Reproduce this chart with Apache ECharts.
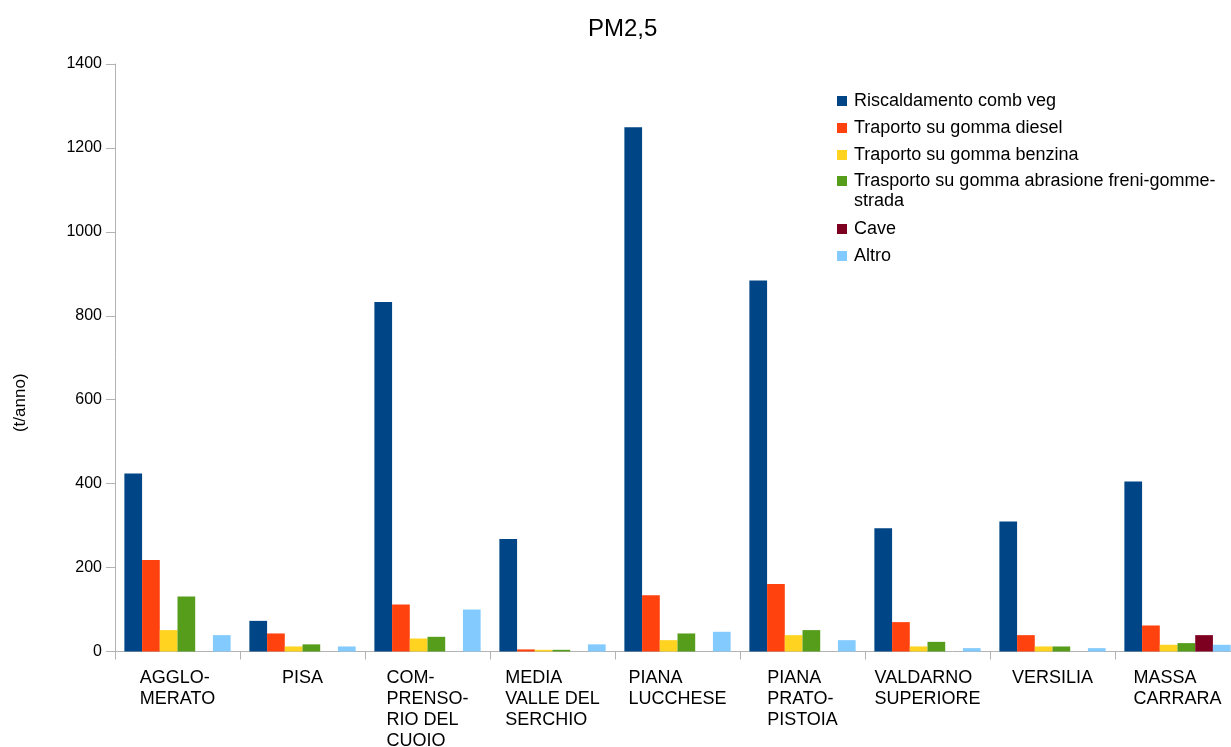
<!DOCTYPE html>
<html>
<head>
<meta charset="utf-8">
<script src="https://cdn.jsdelivr.net/npm/echarts@6/dist/echarts.min.js"></script>
<style>
html,body{margin:0;padding:0;background:#fff;}
#chart{width:1231px;height:747px;}
</style>
</head>
<body>
<div id="chart"></div>
<script>
const categories = ['AGGLO-\nMERATO', 'PISA', 'COM-\nPRENSO-\nRIO DEL\nCUOIO', 'MEDIA\nVALLE DEL\nSERCHIO', 'PIANA\nLUCCHESE', 'PIANA\nPRATO-\nPISTOIA', 'VALDARNO\nSUPERIORE', 'VERSILIA', 'MASSA\nCARRARA'];
const seriesNames = ['Riscaldamento comb veg', 'Traporto su gomma diesel', 'Traporto su gomma benzina', 'Trasporto su gomma abrasione freni-gomme-strada', 'Cave', 'Altro'];
const riscaldamento = [424, 73, 833, 268, 1249, 884, 294, 310, 405];
const diesel = [218, 43, 112, 5, 134, 161, 70, 39, 62];
const benzina = [51, 12, 31, 4, 27, 39, 12, 12, 16];
const abrasione = [131, 17, 35, 4, 43, 51, 23, 12, 20];
const cave = [0, 0, 0, 0, 0, 0, 0, 0, 39];
const altro = [39, 12, 100, 17, 47, 27, 8, 8, 16];
const yTicks = {min: 0, max: 1400, interval: 200};

const colors = ['#004586', '#ff420e', '#ffd320', '#579d1c', '#7e0021', '#83caff'];
const values = [riscaldamento, diesel, benzina, abrasione, cave, altro];

const chart = echarts.init(document.getElementById('chart'), null, {renderer: 'canvas'});
const font = 'Liberation Sans, Arial, sans-serif';

const legendBase = {
  orient: 'vertical',
  left: 837,
  padding: 0,
  itemWidth: 10,
  itemHeight: 10,
  itemGap: 7,
  icon: 'rect',
  textStyle: {fontFamily: font, fontSize: 18, lineHeight: 20, color: '#000', padding: [0, 0, 0, 2]}
};

const option = {
  animation: false,
  backgroundColor: '#ffffff',
  title: {
    text: 'PM2,5',
    left: 583,
    top: 12,
    textStyle: {fontFamily: font, fontSize: 24, fontWeight: 'normal', color: '#000'}
  },
  legend: [
    Object.assign({}, legendBase, {top: 91, data: seriesNames.slice(0, 3)}),
    Object.assign({}, legendBase, {
      top: 151,
      data: seriesNames.slice(3, 4),
      formatter: function (name) {
        return name.replace('gomme-strada', 'gomme-\nstrada').split('\n').map(function (l) { return '{a|' + l + '}'; }).join('\n');
      },
      textStyle: {
        fontFamily: font, fontSize: 18, lineHeight: 20, color: '#000', padding: [20, 0, 0, 2],
        rich: {a: {fontFamily: font, fontSize: 18, lineHeight: 20, color: '#000', align: 'left'}}
      }
    }),
    Object.assign({}, legendBase, {top: 219, data: seriesNames.slice(4)})
  ],
  grid: {left: 115, width: 1125, top: 64, bottom: 95.5, containLabel: false, outerBoundsMode: 'none'},
  xAxis: {
    type: 'category',
    data: categories,
    axisLine: {lineStyle: {color: '#b3b3b3', width: 1}},
    axisTick: {show: true, length: 8, lineStyle: {color: '#b3b3b3'}},
    axisLabel: {
      interval: 0,
      margin: 16,
      color: '#000',
      fontFamily: font,
      fontSize: 18,
      lineHeight: 21,
      formatter: function (v) {
        return v.split('\n').map(function (l) { return '{l|' + l + '}'; }).join('\n');
      },
      rich: {l: {align: 'left', fontFamily: font, fontSize: 18, lineHeight: 21, color: '#000'}}
    },
    splitLine: {show: false}
  },
  yAxis: {
    type: 'value',
    min: yTicks.min,
    max: yTicks.max,
    interval: yTicks.interval,
    name: '(t/anno)',
    nameLocation: 'middle',
    nameRotate: 90,
    nameGap: 86,
    nameTextStyle: {fontFamily: font, fontSize: 17, color: '#000', padding: [0, 90, 0, 0]},
    axisLine: {show: true, lineStyle: {color: '#b3b3b3', width: 1}},
    axisTick: {show: true, length: 9, lineStyle: {color: '#b3b3b3'}},
    axisLabel: {margin: 13, color: '#000', fontFamily: font, fontSize: 16, formatter: function (v) { return String(v); }},
    splitLine: {show: false}
  },
  series: seriesNames.map(function (n, i) {
    return {
      name: n,
      type: 'bar',
      data: values[i],
      barGap: '0%',
      barCategoryGap: '15%',
      itemStyle: {color: colors[i]}
    };
  })
};
chart.setOption(option);
</script>
</body>
</html>
